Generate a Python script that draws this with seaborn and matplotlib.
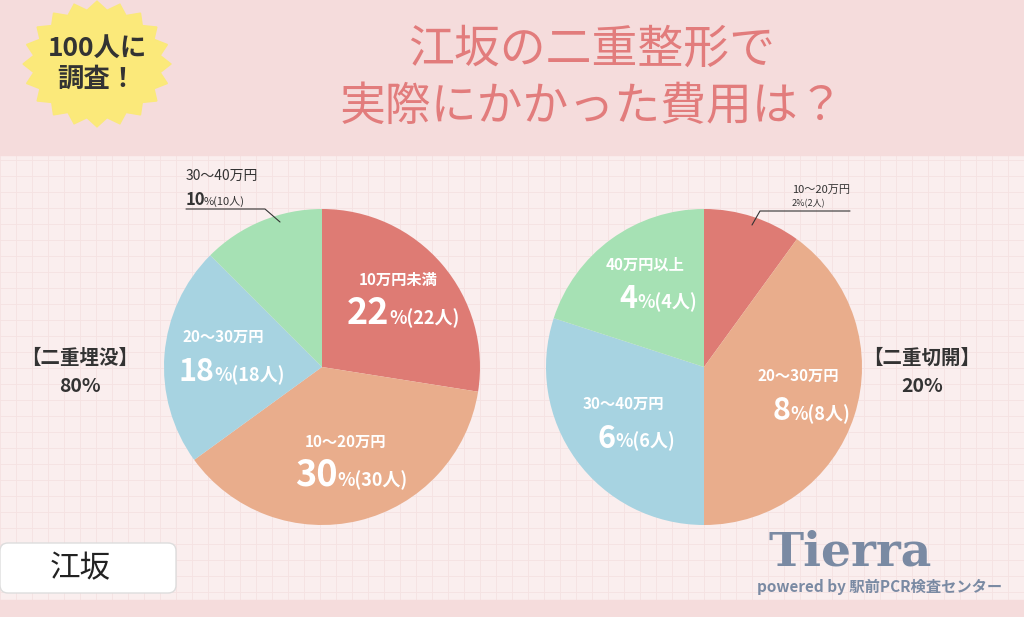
import matplotlib
matplotlib.use("Agg")
import matplotlib.pyplot as plt
import numpy as np
import seaborn as sns
from matplotlib.patches import FancyBboxPatch, Polygon

FONT = "Noto Sans CJK JP"
sns.set_theme(style="white", font=FONT)

# data
left_labels = ["10万円未満", "10〜20万円", "20〜30万円", "30〜40万円"]
left_values = [22, 30, 18, 10]
right_labels = ["10〜20万円", "20〜30万円", "30〜40万円", "40万円以上"]
right_values = [2, 8, 6, 4]
colors = ["#de7b74", "#e9ad8c", "#a7d3e1", "#a6e1b4"]

W, H = 1024, 617
fig = plt.figure(figsize=(W / 100, H / 100), dpi=100)
bg = fig.add_axes([0, 0, 1, 1])
bg.set_xlim(0, W)
bg.set_ylim(H, 0)
bg.axis("off")
bg.add_patch(plt.Rectangle((0, 0), W, H, color="#faeeee", zorder=0))
for g in range(0, W, 16):
    bg.axvline(g, color="#f5e2e2", lw=0.6, zorder=0.5)
for g in range(0, H, 16):
    bg.axhline(g, color="#f5e2e2", lw=0.6, zorder=0.5)
bg.add_patch(plt.Rectangle((0, 0), W, 155, color="#f5dcdc", zorder=1))
bg.add_patch(plt.Rectangle((0, 600), W, 17, color="#f5dcdc", zorder=1))

# overlay for text above the pies
ov = fig.add_axes([0, 0, 1, 1])
ov.set_xlim(0, W)
ov.set_ylim(H, 0)
ov.axis("off")
ov.set_zorder(10)
ov.patch.set_visible(False)

# badge
ang = np.linspace(0, 2 * np.pi, 41)
rad = np.where(np.arange(41) % 2 == 0, 74, 64)
ov.add_patch(Polygon(np.c_[97 + rad * np.cos(ang), 64 + rad * np.sin(ang) * 0.85],
                     color="#fbe97a", zorder=2))
ov.text(97, 64, "100人に\n調査！", ha="center", va="center", fontsize=19,
        fontweight="bold", color="#333333", linespacing=1.2, zorder=3)
ov.text(592, 78, "江坂の二重整形で\n実際にかかった費用は？", ha="center", va="center",
        fontsize=33, color="#e27c7c", linespacing=1.25, zorder=3)

ov.text(80, 372, "【二重埋没】\n80%", ha="center", va="center", fontsize=14,
        color="#333333", linespacing=1.6, fontweight="bold")
ov.text(922, 372, "【二重切開】\n20%", ha="center", va="center", fontsize=14,
        color="#333333", linespacing=1.6, fontweight="bold")

ov.add_patch(FancyBboxPatch((0, 543), 176, 50, boxstyle="round,pad=0,rounding_size=8",
                            fc="white", ec="#dddddd", zorder=2))
ov.text(80, 569, "江坂", ha="center", va="center", fontsize=22, color="#222222", zorder=3)
ov.text(850, 552, "Tierra", ha="center", va="center", fontsize=34, color="#7a8aa3",
        family="DejaVu Serif", fontweight="bold", zorder=3)
ov.text(880, 587, "powered by 駅前PCR検査センター", ha="center", va="center",
        fontsize=11, color="#7a8aa3", fontweight="bold", zorder=3)


def draw_pie(cx, cy, r, values, labels, outside):
    ax = fig.add_axes([(cx - r) / W, (H - cy - r) / H, 2 * r / W, 2 * r / H])
    ax.pie(values, colors=colors, startangle=90, counterclock=False,
           wedgeprops=dict(linewidth=0))
    ax.set_xlim(-1, 1)
    ax.set_ylim(-1, 1)
    ax.set_aspect("equal")
    ax.set_zorder(5)
    total = sum(values)
    start = 90.0
    for v, lab in zip(values, labels):
        mid = np.deg2rad(start - 180 * v / total)
        start -= 360 * v / total
        if lab in outside:
            continue
        x = cx + 0.63 * r * np.cos(mid)
        y = cy - 0.63 * r * np.sin(mid)
        big = 26 if v >= 20 else 22
        ov.text(x, y - 22, lab, ha="center", va="center", fontsize=11,
                color="white", fontweight="bold", zorder=5)
        ov.text(x - 8, y + 22, str(v), ha="right", va="baseline", fontsize=big,
                color="white", fontweight="bold", zorder=5)
        ov.text(x - 8, y + 22, "%(" + str(v) + "人)", ha="left", va="baseline",
                fontsize=13, color="white", fontweight="bold", zorder=5)
    return ax


draw_pie(322, 367, 158, left_values, left_labels, ["30〜40万円"])
draw_pie(704, 367, 158, right_values, right_labels, ["10〜20万円"])

# outside labels
ov.text(186, 176, left_labels[3], ha="left", va="center", fontsize=10, color="#333333")
ov.text(186, 205, str(left_values[3]), ha="left", va="baseline", fontsize=12,
        color="#333333", fontweight="bold")
ov.text(204, 205, "%(" + str(left_values[3]) + "人)", ha="left", va="baseline",
        fontsize=8, color="#333333")
ov.plot([186, 265, 280], [209, 209, 222], color="#333333", lw=0.8)
ov.text(792, 190, right_labels[0], ha="left", va="center", fontsize=8, color="#333333")
ov.text(792, 204, str(right_values[0]) + "%(" + str(right_values[0]) + "人)",
        ha="left", va="center", fontsize=6.5, color="#333333")
ov.plot([850, 760, 752], [211, 211, 225], color="#333333", lw=0.8)

fig.savefig("out.png", dpi=100)
